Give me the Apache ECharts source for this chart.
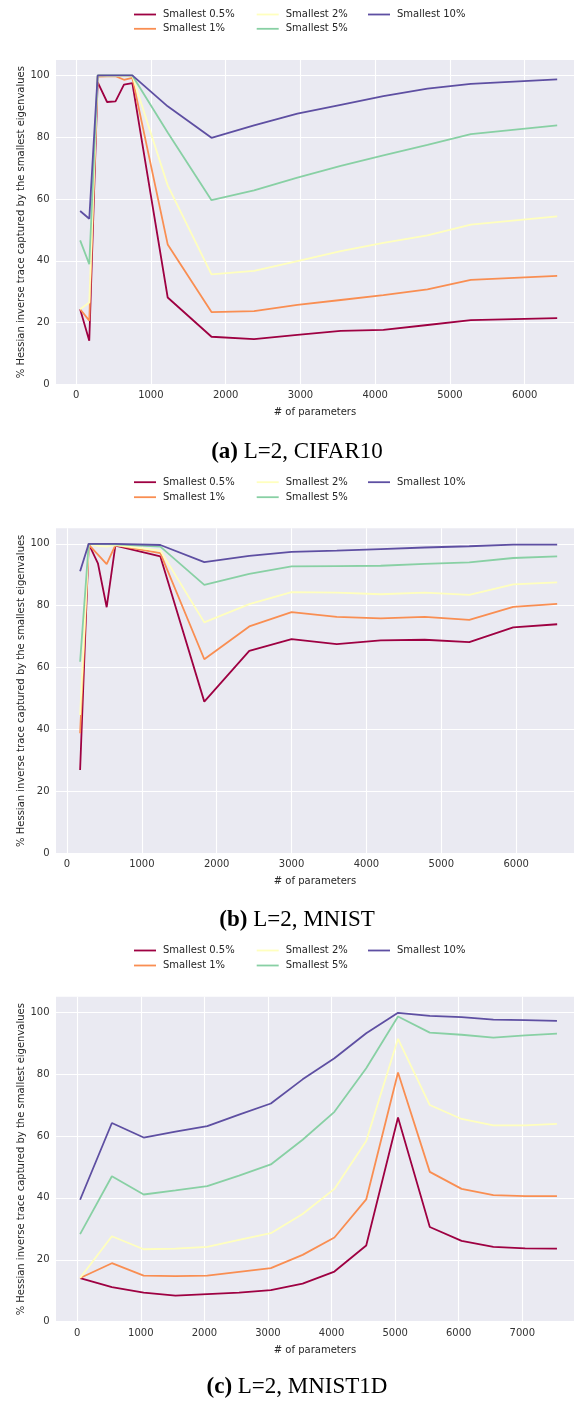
<!DOCTYPE html>
<html>
<head>
<meta charset="utf-8">
<script src="https://cdn.jsdelivr.net/npm/echarts@6/dist/echarts.min.js"></script>
<style>
html,body{margin:0;padding:0;background:#fff;}
#chart{width:574px;height:1401px;}
</style>
</head>
<body>
<div id="chart"></div>
<script>
// ---- data ----
const seriesNames = ['Smallest 0.5%', 'Smallest 1%', 'Smallest 2%', 'Smallest 5%', 'Smallest 10%'];
const seriesColors = ['#9e0142', '#f98e52', '#ffffbe', '#88d0a4', '#5e4fa2'];

// (a) CIFAR10
const paramsA = [54, 176, 288, 414, 527, 640, 752, 1225, 1811, 2380, 2960, 3540, 4110, 4700, 5280, 6435];
const a05 = [24.3, 14.1, 97.8, 91.4, 91.6, 97.0, 97.5, 28.1, 15.4, 14.6, 16.0, 17.3, 17.6, 19.2, 20.8, 21.4];
const a1  = [24.3, 20.6, 99.6, 99.7, 99.8, 98.6, 99.2, 45.3, 23.4, 23.7, 25.7, 27.3, 28.9, 30.7, 33.8, 35.1];
const a2  = [24.3, 26.5, 100, 99.9, 99.9, 99.8, 99.9, 64.4, 35.6, 36.7, 39.9, 43.1, 45.8, 48.2, 51.7, 54.4];
const a5  = [46.6, 38.9, 100, 100, 100, 100, 100, 81.5, 59.6, 62.8, 66.9, 70.7, 74.1, 77.5, 81.0, 83.8];
const a10 = [56.1, 53.6, 100, 100, 100, 100, 100, 90.0, 79.8, 83.8, 87.6, 90.5, 93.3, 95.7, 97.3, 98.7];

// (b) MNIST
const paramsB = [175, 290, 413, 530, 646, 1247, 1834, 2435, 3000, 3604, 4191, 4778, 5374, 5961, 6548];
const b05 = [26.9, 100, 93.7, 79.5, 99.4, 95.9, 49.0, 65.4, 69.2, 67.6, 68.8, 69.0, 68.2, 73.0, 74.0];
const b1  = [38.8, 99.7, 96.5, 93.4, 99.6, 97.0, 62.7, 73.3, 77.9, 76.4, 75.9, 76.4, 75.4, 79.6, 80.6];
const b2  = [44.7, 100, 99.3, 99.1, 99.6, 97.8, 74.6, 80.5, 84.4, 84.2, 83.7, 84.2, 83.5, 86.9, 87.5];
const b5  = [61.9, 100, 99.9, 99.9, 99.8, 99.1, 86.7, 90.3, 92.7, 92.8, 92.9, 93.5, 94.0, 95.4, 95.9];
const b10 = [91.1, 100, 100, 100, 100, 99.6, 94.1, 96.1, 97.4, 97.8, 98.3, 98.8, 99.2, 99.7, 99.7];

// (c) MNIST1D
const paramsC = [45, 545, 1045, 1545, 2045, 2545, 3045, 3545, 4045, 4545, 5045, 5545, 6045, 6545, 7045, 7545];
const c05 = [14.1, 11.2, 9.4, 8.4, 8.9, 9.4, 10.2, 12.3, 16.2, 24.6, 66.0, 30.6, 26.1, 24.2, 23.7, 23.6];
const c1  = [14.1, 18.9, 14.9, 14.7, 14.9, 16.1, 17.3, 21.6, 27.2, 39.5, 80.5, 48.4, 42.9, 40.9, 40.6, 40.6];
const c2  = [14.1, 27.6, 23.4, 23.6, 24.2, 26.4, 28.6, 34.8, 42.9, 58.4, 91.4, 70.0, 65.5, 63.4, 63.4, 63.9];
const c5  = [28.3, 47.0, 41.1, 42.4, 43.8, 47.2, 50.8, 58.8, 67.8, 81.9, 98.6, 93.4, 92.7, 91.8, 92.5, 93.1];
const c10 = [39.4, 64.2, 59.5, 61.4, 63.2, 66.9, 70.5, 78.3, 85.1, 93.2, 99.8, 98.8, 98.4, 97.6, 97.4, 97.2];

const xTicksAB = [0, 1000, 2000, 3000, 4000, 5000, 6000];
const xTicksC = [0, 1000, 2000, 3000, 4000, 5000, 6000, 7000];
const yTicks = [0, 20, 40, 60, 80, 100];

const captions = ['(a)', '(b)', '(c)'];
const captionRest = [' L=2, CIFAR10', ' L=2, MNIST', ' L=2, MNIST1D'];
const xName = '# of parameters';
const yName = '% Hessian inverse trace captured by the smallest eigenvalues';

// ---- layout ----
const panels = [
  { params: paramsA, vals: [a05, a1, a2, a5, a10], xTicks: xTicksAB, xmin: -269, xmax: 6660,
    top: 60, height: 324.3, legendY: [14, 28.3], capY: 452 },
  { params: paramsB, vals: [b05, b1, b2, b5, b10], xTicks: xTicksAB, xmin: -147, xmax: 6773,
    top: 528.3, height: 325, legendY: [481.7, 496.7], capY: 920 },
  { params: paramsC, vals: [c05, c1, c2, c5, c10], xTicks: xTicksC, xmin: -334, xmax: 7813,
    top: 996.7, height: 325, legendY: [950, 965], capY: 1387 }
];
const legendCols = [134, 256.7, 368];
const legendPos = [[0, 0], [0, 1], [1, 0], [1, 1], [2, 0]]; // [col,row] per series

const FONT = 'DejaVu Sans';
const TXT = '#262626';
const plain = v => String(v);

const grid = [], xAxis = [], yAxis = [], series = [], legend = [], graphic = [];
panels.forEach((p, pi) => {
  grid.push({ left: 56, top: p.top, width: 518, height: p.height, show: true,
    backgroundColor: '#eaeaf2', borderWidth: 0, borderColor: 'transparent' });
  xAxis.push({ type: 'value', gridIndex: pi, min: p.xmin, max: p.xmax,
    name: xName, nameLocation: 'middle', nameGap: 23.5,
    nameTextStyle: { fontFamily: FONT, fontSize: 10, color: TXT },
    axisLine: { show: false },
    axisTick: { show: false, customValues: p.xTicks },
    axisLabel: { customValues: p.xTicks, formatter: plain, fontFamily: FONT, fontSize: 10, color: '#333', margin: 6.5 },
    splitLine: { show: true, lineStyle: { color: '#ffffff', width: 1.1 } } });
  yAxis.push({ type: 'value', gridIndex: pi, min: 0, max: 105,
    name: yName, nameLocation: 'middle', nameGap: 30, nameMoveOverlap: false,
    nameTextStyle: { fontFamily: FONT, fontSize: 10, color: TXT },
    axisLine: { show: false },
    axisTick: { show: false, customValues: yTicks },
    axisLabel: { customValues: yTicks, formatter: plain, fontFamily: FONT, fontSize: 10, color: '#333', margin: 6.5 },
    splitLine: { show: true, lineStyle: { color: '#ffffff', width: 1.1 } } });
  seriesNames.forEach((nm, si) => {
    series.push({ type: 'line', name: nm, xAxisIndex: pi, yAxisIndex: pi,
      data: p.params.map((x, k) => [x, p.vals[si][k]]),
      showSymbol: false, symbol: 'none', smooth: false, animation: false,
      itemStyle: { color: seriesColors[si] },
      lineStyle: { color: seriesColors[si], width: 1.8 } });
    const [c, r] = legendPos[si];
    legend.push({ data: [nm], left: legendCols[c], top: p.legendY[r] - 4.5,
      orient: 'horizontal', padding: 0, itemGap: 0, itemWidth: 22, itemHeight: 1.8,
      icon: 'rect', selectedMode: false,
      textStyle: { fontFamily: FONT, fontSize: 10, color: TXT, padding: [0, 0, 0, 2] } });
  });
  graphic.push({ type: 'text', x: 297, y: p.capY,
    style: { text: '{b|' + captions[pi] + '}' + captionRest[pi],
      rich: { b: { fontWeight: 'bold', fontFamily: 'Liberation Serif', fontSize: 23, fill: '#000' } },
      fontFamily: 'Liberation Serif', fontSize: 23, fill: '#000',
      textAlign: 'center', textVerticalAlign: 'middle' } });
});

const chart = echarts.init(document.getElementById('chart'), null, { renderer: 'canvas' });
chart.setOption({
  animation: false,
  backgroundColor: '#ffffff',
  grid, xAxis, yAxis, series, legend, graphic
});
</script>
</body>
</html>
